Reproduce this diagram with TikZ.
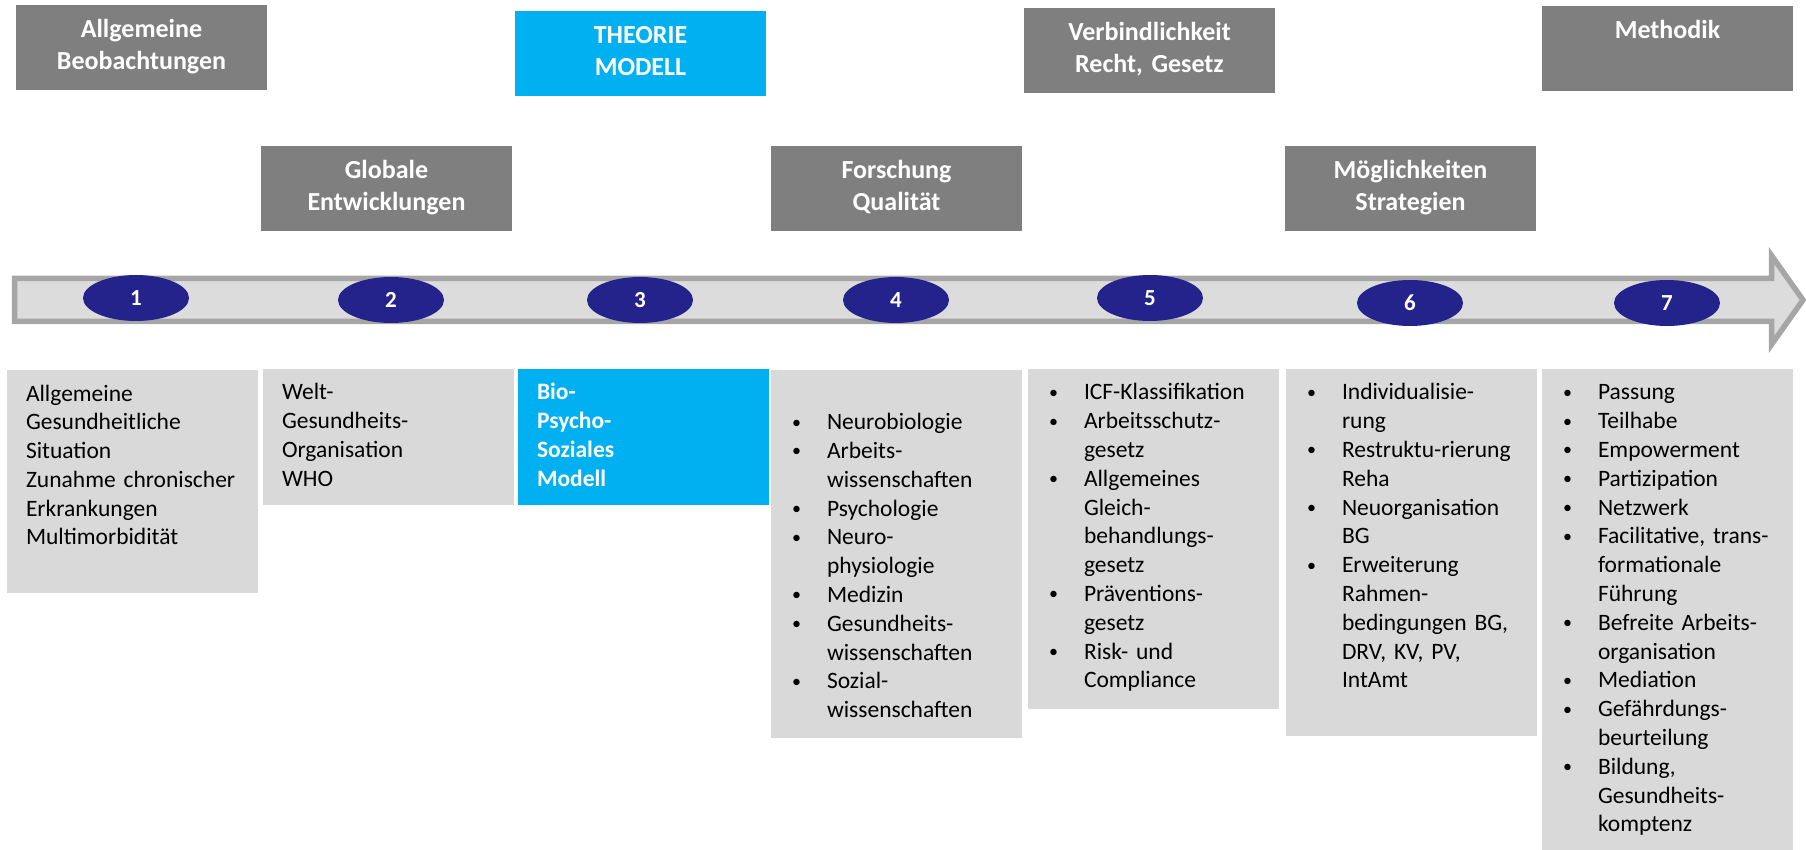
\documentclass[tikz,border=0pt]{standalone}
\usepackage{fontspec}
\setmainfont{Carlito}
\usetikzlibrary{shapes.geometric}

\definecolor{hdgray}{RGB}{127,127,127}
\definecolor{boxgray}{RGB}{217,217,217}
\definecolor{theoblue}{RGB}{0,176,240}
\definecolor{numblue}{RGB}{35,35,139}
\definecolor{bandgray}{RGB}{220,220,220}
\definecolor{bandline}{RGB}{166,166,166}

\frenchspacing
\hyphenpenalty=10000
\exhyphenpenalty=10000
% bullet item with hanging indent
\newcommand\itm[1]{\hangindent=18.5pt\hangafter=1%
  \makebox[18.5pt][l]{\hspace{1pt}\raisebox{0.8pt}{\fontsize{9}{9}\selectfont\textbullet}}#1\par}

\begin{document}
\begin{tikzpicture}[x=0.5pt,y=-0.5pt]
  \tikzstyle{topic}=[fill=hdgray,text=white,anchor=north west,outer sep=0pt,
    font=\fontsize{13}{16}\selectfont\bfseries,text width=112.5pt,align=center,
    inner xsep=6.5pt,inner ysep=6.5pt,text height=10pt,text depth=19.5pt]
  \tikzstyle{panel}=[fill=boxgray,anchor=north west,outer sep=0pt,
    font=\fontsize{11.75}{14.4}\selectfont,text width=106.5pt,align=left,
    inner xsep=9.5pt,inner ysep=6.5pt,text height=9pt]
  \tikzstyle{stage}=[ellipse,fill=numblue,text=white,inner sep=0pt,
    minimum width=53pt,minimum height=23pt,font=\fontsize{11.5}{12}\selectfont\bfseries]
  \tikzstyle{band}=[fill=bandgray,draw=bandline,line width=2.75pt]

  \useasboundingbox (0,0) rectangle (1806,850);

  % time line
  \draw[band] (14.5,278.5) -- (1771.5,278.5) -- (1771.5,255.5) -- (1803,300)
    -- (1771.5,344.5) -- (1771.5,321.5) -- (14.5,321.5) -- cycle;

  \node [stage] (s1) at (136,298) {1};
  \node [stage] (s2) at (391,300) {2};
  \node [stage] (s3) at (640,300) {3};
  \node [stage] (s4) at (896,300) {4};
  \node [stage] (s5) at (1150,298) {5};
  \node [stage] (s6) at (1410,303) {6};
  \node [stage] (s7) at (1667,303) {7};

  % headings
  \node [topic] (allg) at (16,5) {Allgemeine\\Beobachtungen};
  \node [topic,fill=theoblue] (theo) at (515,11) {THEORIE\\MODELL};
  \node [topic] (verb) at (1024,8) {Verbindlichkeit\\Recht, Gesetz};
  \node [topic] (meth) at (1542,6) {Methodik};
  \node [topic] (glob) at (261,146) {Globale\\Entwicklungen};
  \node [topic] (forsch) at (771,146) {Forschung\\Qualität};
  \node [topic] (moegl) at (1285,146) {Möglichkeiten\\Strategien};

  % contents
  \node [panel,text depth=89.5pt] (p1) at (7,370)
    {Allgemeine\\Gesundheitliche\\Situation\\Zunahme~chronischer\\Erkrankungen\\Multimorbidität};
  \node [panel,text depth=46pt] (p2) at (263,369)
    {Welt-\\Gesundheits-\\Organisation\\WHO};
  \node [panel,text depth=46pt,fill=theoblue,text=white,
    font=\fontsize{11.75}{14.4}\selectfont\bfseries] (p3) at (518,369)
    {Bio-\\Psycho-\\Soziales\\Modell};
  \node [panel,text depth=162pt] (p4) at (771,370)
    {\mbox{}\par
     \itm{Neurobiologie}
     \itm{Arbeits-\newline wissenschaften}
     \itm{Psychologie}
     \itm{Neuro-\newline physiologie}
     \itm{Medizin}
     \itm{Gesundheits-\newline wissenschaften}
     \itm{Sozial-\newline wissenschaften}};
  \node [panel,text depth=148pt] (p5) at (1028,369)
    {\itm{ICF-Klassifikation}
     \itm{Arbeitsschutz-\newline gesetz}
     \itm{Allgemeines\newline Gleich-\newline behandlungs-\newline gesetz}
     \itm{Präventions-\newline gesetz}
     \itm{Risk-~und\newline Compliance}};
  \node [panel,text depth=161.5pt] (p6) at (1286,369)
    {\itm{Individualisie-\newline rung}
     \itm{Restruktu-rierung\newline Reha}
     \itm{Neuorganisation\newline BG}
     \itm{Erweiterung\newline Rahmen-\newline bedingungen~BG,\newline DRV,~KV,~PV,\newline IntAmt}};
  \node [panel,text depth=235pt] (p7) at (1542,369)
    {\itm{Passung}
     \itm{Teilhabe}
     \itm{Empowerment}
     \itm{Partizipation}
     \itm{Netzwerk}
     \itm{Facilitative,~trans-\newline formationale\newline Führung}
     \itm{Befreite~Arbeits-\newline organisation}
     \itm{Mediation}
     \itm{Gefährdungs-\newline beurteilung}
     \itm{Bildung,\newline Gesundheits-\newline komptenz}};
\end{tikzpicture}
\end{document}
